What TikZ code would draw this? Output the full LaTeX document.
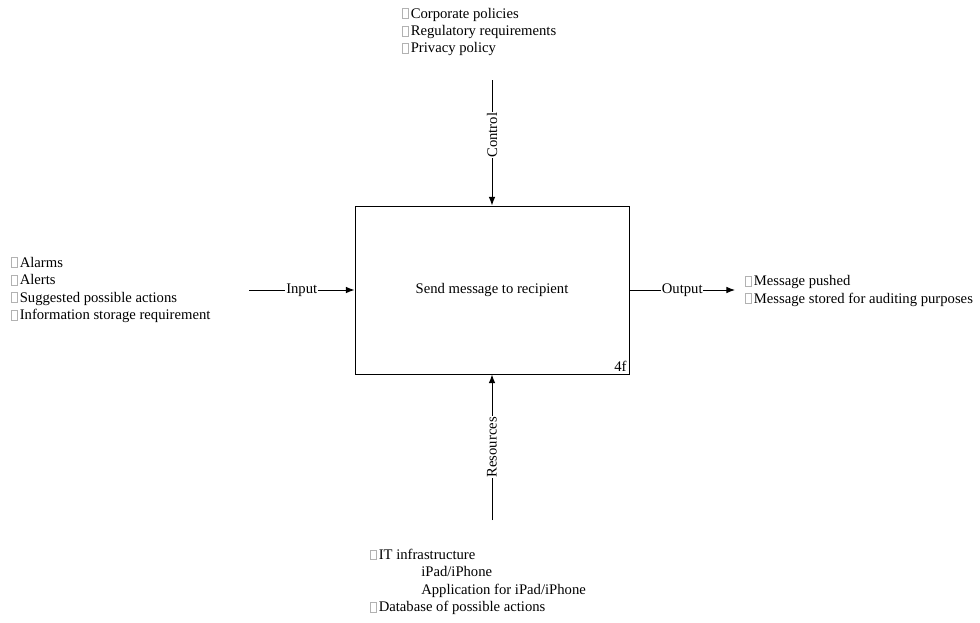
\documentclass[tikz,border=0pt]{standalone}
\usepackage{fontspec}
\setmainfont{Liberation Serif}
\usetikzlibrary{arrows.meta}
% missing-glyph box that precedes every list entry
\newcommand\tofu{\textcolor{black!30}{\setlength{\fboxsep}{0pt}\setlength{\fboxrule}{0.4pt}\fbox{\rule{0pt}{7pt}\hspace{4.2pt}}}\hspace{1.4pt}}
\begin{document}
\begin{tikzpicture}[x=0.75pt,y=-0.75pt,
  every node/.style={font=\fontsize{11}{13.1}\selectfont},
  flow/.style={draw=black, line width=0.75pt, -{Latex[length=6.5pt,width=5pt]}},
  tag/.style={fill=white, inner sep=0.6pt},
  list/.style={anchor=west, align=left, inner sep=0pt}]
\useasboundingbox (0,0) rectangle (980,622);

% activity box
\node[draw, line width=0.75pt, minimum width=205.5pt, minimum height=126pt, inner sep=0pt]
  (fn) at (492,290) {Send message to recipient};
\node[anchor=south east, inner sep=2pt] (num) at (fn.south east) {4f};

% connector ends
\coordinate (ctl) at (492,80);
\coordinate (res) at (492,520);
\coordinate (inp) at (249,290);
\coordinate (outp) at (735,290);

% connectors
\draw[flow] (ctl) -- node[tag, rotate=90, pos=0.44] {Control} (fn.north);
\draw[flow] (res) -- node[tag, rotate=90] {Resources} (fn.south);
\draw[flow] (inp) -- node[tag] {Input} (fn.west);
\draw[flow] (fn.east) -- node[tag] {Output} (outp);

% entry lists
\node[list] (ctrl) at (402,32) {\tofu Corporate policies\\\tofu Regulatory requirements\\\tofu Privacy policy};
\node[list] (ins) at (11,290) {\tofu Alarms\\\tofu Alerts\\\tofu Suggested possible actions\\\tofu Information storage requirement};
\node[list] (outs) at (745,291) {\tofu Message pushed\\\tofu Message stored for auditing purposes};
\node[list] (mech) at (370,582) {\tofu IT infrastructure\\\hspace*{38.25pt}iPad/iPhone\\\hspace*{38.25pt}Application for iPad/iPhone\\\tofu Database of possible actions};
\end{tikzpicture}
\end{document}
